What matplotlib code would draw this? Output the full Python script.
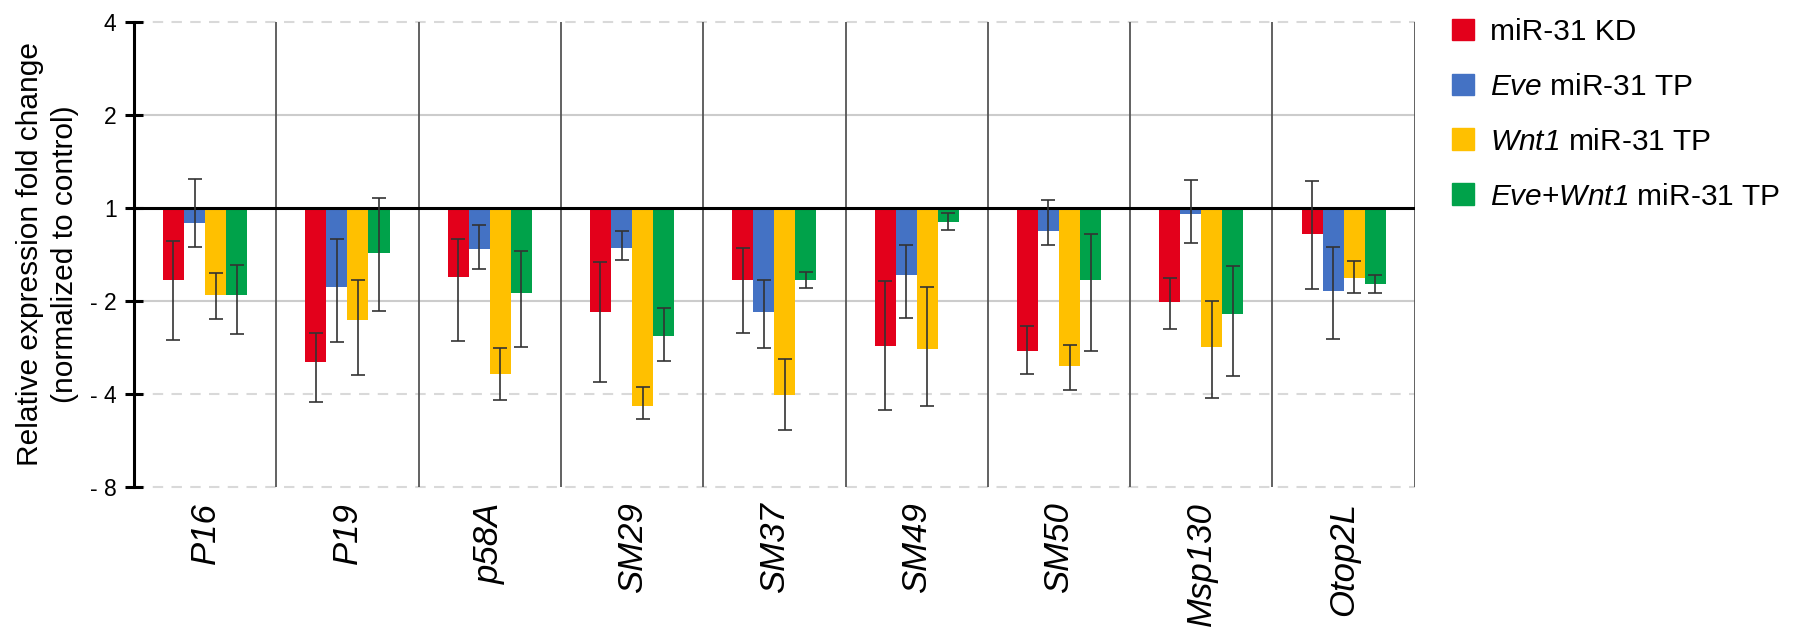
import matplotlib
matplotlib.use('Agg')
import matplotlib.pyplot as plt
import numpy as np
from matplotlib.patches import Patch

plt.rcParams['font.family'] = ['Liberation Sans', 'DejaVu Sans']
plt.rcParams['mathtext.fontset'] = 'custom'
plt.rcParams['mathtext.rm'] = 'Liberation Sans:italic'
plt.rcParams['mathtext.it'] = 'Liberation Sans:italic'

# values are log2 fold change vs control (axis is labelled in fold change)
genes = ['P16', 'P19', 'p58A', 'SM29', 'SM37', 'SM49', 'SM50', 'Msp130', 'Otop2L']

kd_mean = [-0.78, -1.66, -0.74, -1.12, -0.78, -1.48, -1.54, -1.01, -0.28]
kd_hi = [-0.36, -1.34, -0.33, -0.58, -0.43, -0.79, -1.27, -0.75, 0.29]
kd_lo = [-1.42, -2.09, -1.43, -1.87, -1.34, -2.17, -1.78, -1.30, -0.87]

eve_mean = [-0.16, -0.85, -0.44, -0.43, -1.12, -0.72, -0.25, -0.07, -0.89]
eve_hi = [0.31, -0.33, -0.18, -0.25, -0.77, -0.40, 0.08, 0.30, -0.42]
eve_lo = [-0.42, -1.44, -0.66, -0.56, -1.51, -1.18, -0.40, -0.38, -1.41]

wnt_mean = [-0.94, -1.20, -1.79, -2.13, -2.01, -1.52, -1.70, -1.50, -0.75]
wnt_hi = [-0.70, -0.77, -1.51, -1.92, -1.62, -0.85, -1.47, -1.00, -0.57]
wnt_lo = [-1.19, -1.80, -2.07, -2.27, -2.39, -2.13, -1.96, -2.04, -0.92]

both_mean = [-0.94, -0.49, -0.92, -1.38, -0.78, -0.15, -0.78, -1.14, -0.82]
both_hi = [-0.61, 0.11, -0.46, -1.08, -0.69, -0.05, -0.28, -0.62, -0.72]
both_lo = [-1.36, -1.11, -1.50, -1.65, -0.86, -0.24, -1.54, -1.81, -0.91]

labels = ['miR-31 KD', r'$Eve$ miR-31 TP', r'$Wnt1$ miR-31 TP',
          r'$Eve$+$Wnt1$ miR-31 TP']
colors = ['#E3001B', '#4472C4', '#FFC000', '#00A24A']

ytick_pos = [2, 1, 0, -1, -2, -3]
ytick_labels = ['4', '2', '1', '- 2', '- 4', '- 8']

series = [(kd_mean, kd_lo, kd_hi), (eve_mean, eve_lo, eve_hi),
          (wnt_mean, wnt_lo, wnt_hi), (both_mean, both_lo, both_hi)]

fig = plt.figure(figsize=(18, 6.4), dpi=100)
ax = fig.add_axes([0.0744, 0.239, 0.7116, 0.727])

x = np.arange(len(genes))
w = 0.148
for i, (m, lo, hi) in enumerate(series):
    m = np.array(m)
    xs = x + (i - 1.5) * w
    ax.bar(xs, m, w, color=colors[i], zorder=3)
    ax.errorbar(xs, m, yerr=[m - np.array(lo), np.array(hi) - m], fmt='none',
                ecolor='#333333', elinewidth=1.2, capsize=5, capthick=1.2, zorder=5)

ax.set_xlim(-0.5, len(genes) - 0.5)
ax.set_ylim(-3, 2)

# grid: solid at 2 and -2, dashed at 4, -4, -8
for y in [1, -1]:
    ax.axhline(y, color='#cccccc', lw=1.5, zorder=1)
for y in [2, -2, -3]:
    ax.axhline(y, color='#d9d9d9', lw=1.5, ls=(0, (5, 4)), zorder=1, clip_on=False)
for xv in np.arange(0.5, len(genes), 1.0):
    ax.axvline(xv, color='#555555', lw=1.3, zorder=2)
ax.axhline(0, color='black', lw=2.2, zorder=4)

for s in ['top', 'right', 'bottom']:
    ax.spines[s].set_visible(False)
ax.spines['left'].set_linewidth(2.2)

ax.set_yticks(ytick_pos)
ax.set_yticklabels(ytick_labels, fontsize=16.5)
ax.tick_params(axis='y', direction='inout', length=13, width=2.2, pad=6)
ax.set_xticks(x)
ax.set_xticklabels(genes, rotation=90, fontsize=25, style='italic')
ax.tick_params(axis='x', length=0, pad=11)

ax.set_ylabel('Relative expression fold change\n(normalized to control)',
              fontsize=21.5, labelpad=8, linespacing=1.3)

handles = [Patch(color=c) for c in colors]
fig.legend(handles, labels, loc='upper left', bbox_to_anchor=(0.8067, 0.972),
           frameon=False, fontsize=21.5, handlelength=0.74, handleheight=0.74,
           handletextpad=0.53, labelspacing=0.9, borderaxespad=0, borderpad=0)

fig.savefig('out.png')
